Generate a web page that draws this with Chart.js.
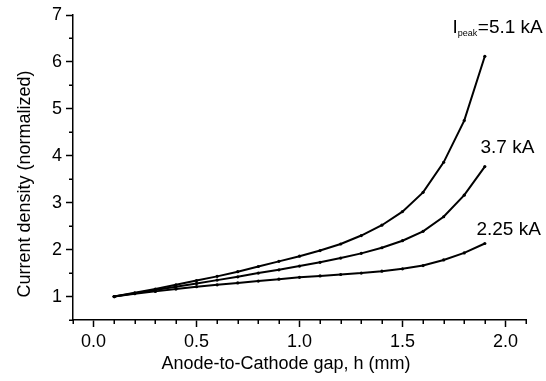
<!DOCTYPE html>
<html lang="en">
<head>
<meta charset="UTF-8">
<title>Current density vs anode-to-cathode gap</title>
<style>
  html, body { margin: 0; padding: 0; background: #fff; }
  #wrap { width: 546px; height: 381px; }
</style>
</head>
<body>
<div id="wrap"><canvas id="densityChart" width="546" height="381"></canvas></div>
<script src="https://cdn.jsdelivr.net/npm/chart.js"></script>
<script>
// gap h (mm) and normalized current density for each peak current
const gapMm = [0.1, 0.2, 0.3, 0.4, 0.5, 0.6, 0.7, 0.8, 0.9, 1.0,
               1.1, 1.2, 1.3, 1.4, 1.5, 1.6, 1.7, 1.8, 1.9];
const density51 = [1.00, 1.08, 1.16, 1.25, 1.34, 1.43, 1.53, 1.64, 1.75, 1.86,
                   1.98, 2.12, 2.30, 2.52, 2.81, 3.22, 3.86, 4.75, 6.12];
const density37 = [1.00, 1.07, 1.14, 1.21, 1.28, 1.35, 1.42, 1.50, 1.57, 1.65,
                   1.73, 1.82, 1.92, 2.04, 2.19, 2.39, 2.70, 3.16, 3.77];
const density225 = [1.00, 1.06, 1.11, 1.16, 1.21, 1.25, 1.29, 1.33, 1.37, 1.41,
                    1.44, 1.47, 1.50, 1.54, 1.59, 1.66, 1.78, 1.93, 2.13];
const xMajorTicks = [0.0, 0.5, 1.0, 1.5, 2.0];
const yMajorTicks = [1, 2, 3, 4, 5, 6, 7];
const curveLabels = ['5.1 kA', '3.7 kA', '2.25 kA'];

const FONT = "'Liberation Sans', Arial, sans-serif";
Chart.defaults.font.family = FONT;
Chart.defaults.color = '#000';

function toPoints(ys) {
    return gapMm.map((x, i) => ({ x: x, y: ys[i] }));
}

function curve(label, ys) {
    return {
        label: label,
        data: toPoints(ys),
        borderColor: '#000',
        backgroundColor: '#000',
        borderWidth: 2,
        pointRadius: 1.6,
        pointBorderWidth: 0,
        pointBackgroundColor: '#000',
        tension: 0,
        fill: false
    };
}

// small unlabeled ticks between the major ones, pointing outwards
const minorTicks = {
    id: 'minorTicks',
    afterDraw(chart) {
        const ctx = chart.ctx;
        const xs = chart.scales.x, ys = chart.scales.y;
        const area = chart.chartArea;
        ctx.save();
        ctx.strokeStyle = '#000';
        ctx.lineWidth = 1.5;
        ctx.beginPath();
        for (let i = -1; i <= 21; i++) {
            if (i % 5 === 0) continue;
            const px = Math.round(xs.getPixelForValue(i / 10)) + 0.25;
            ctx.moveTo(px, area.bottom);
            ctx.lineTo(px, area.bottom + 4);
        }
        for (let i = 1; i <= 14; i++) {
            if (i % 2 === 0) continue;
            const py = Math.round(ys.getPixelForValue(i / 2)) + 0.25;
            ctx.moveTo(area.left, py);
            ctx.lineTo(area.left - 4, py);
        }
        ctx.stroke();
        ctx.restore();
    }
};

// axis titles and the curve labels
const annotations = {
    id: 'annotations',
    afterDraw(chart) {
        const ctx = chart.ctx;
        const xs = chart.scales.x, ys = chart.scales.y;
        ctx.save();
        ctx.fillStyle = '#000';

        ctx.font = '18px ' + FONT;
        ctx.textAlign = 'center';
        ctx.textBaseline = 'alphabetic';
        ctx.fillText('Anode-to-Cathode gap, h (mm)', 286, 369);

        ctx.save();
        ctx.translate(30, 184);
        ctx.rotate(-Math.PI / 2);
        ctx.fillText('Current density (normalized)', 0, 0);
        ctx.restore();

        ctx.textAlign = 'left';
        const big = '19px ' + FONT, small = '9px ' + FONT;
        let px = xs.getPixelForValue(1.743);
        let py = ys.getPixelForValue(6.62);
        ctx.font = big;
        ctx.fillText('I', px, py);
        px += ctx.measureText('I').width;
        ctx.font = small;
        ctx.fillText('peak', px, py + 3);
        px += ctx.measureText('peak').width + 0.5;
        ctx.font = big;
        ctx.fillText('=' + curveLabels[0], px, py);

        ctx.fillText(curveLabels[1], xs.getPixelForValue(1.879), ys.getPixelForValue(4.06));
        ctx.fillText(curveLabels[2], xs.getPixelForValue(1.859), ys.getPixelForValue(2.32));
        ctx.restore();
    }
};

new Chart(document.getElementById('densityChart').getContext('2d'), {
    type: 'line',
    data: {
        datasets: [
            curve(curveLabels[0], density51),
            curve(curveLabels[1], density37),
            curve(curveLabels[2], density225)
        ]
    },
    options: {
        responsive: false,
        animation: false,
        layout: { padding: { top: 15, right: 20, left: 0, bottom: 0 } },
        plugins: {
            legend: { display: false },
            tooltip: { enabled: false }
        },
        scales: {
            x: {
                type: 'linear',
                min: -0.1,
                max: 2.1,
                afterFit: s => { s.height = 61; },
                border: { color: '#000', width: 1.5 },
                grid: { drawOnChartArea: false, drawTicks: true, tickLength: 7, tickWidth: 1.5, tickColor: '#000' },
                ticks: {
                    stepSize: 0.5,
                    includeBounds: false,
                    autoSkip: false,
                    maxRotation: 0,
                    padding: 4,
                    font: { size: 18 },
                    callback: v => xMajorTicks.some(t => Math.abs(t - v) < 1e-6) ? v.toFixed(1) : ''
                }
            },
            y: {
                type: 'linear',
                min: 0.5,
                max: 7,
                afterFit: s => { s.width = 73; },
                border: { color: '#000', width: 1.5 },
                grid: { drawOnChartArea: false, drawTicks: true, tickLength: 7, tickWidth: 1.5, tickColor: '#000' },
                ticks: {
                    stepSize: 1,
                    includeBounds: false,
                    autoSkip: false,
                    padding: 4,
                    font: { size: 18 },
                    callback: v => yMajorTicks.includes(v) ? String(v) : ''
                }
            }
        }
    },
    plugins: [minorTicks, annotations]
});
</script>
</body>
</html>
